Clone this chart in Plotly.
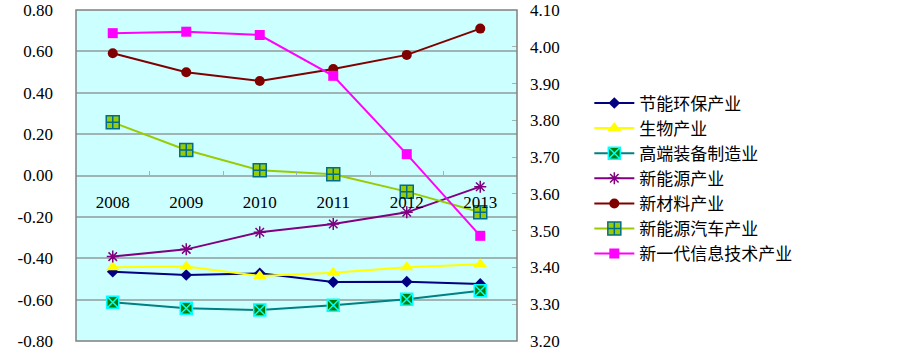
import plotly.graph_objects as go

years = ["2008", "2009", "2010", "2011", "2012", "2013"]

jieneng = [-0.465, -0.481, -0.473, -0.515, -0.513, -0.524]
shengwu = [-0.444, -0.440, -0.486, -0.470, -0.444, -0.429]
gaoduan = [-0.613, -0.642, -0.650, -0.627, -0.598, -0.557]
xinnengyuan = [-0.392, -0.357, -0.274, -0.234, -0.178, -0.054]
xincailiao = [0.591, 0.499, 0.457, 0.515, 0.583, 0.710]
xinnengyuan_qiche = [0.257, 0.123, 0.025, 0.006, -0.078, -0.178]
xinyidai = [4.037, 4.041, 4.032, 3.921, 3.708, 3.486]

left_ticks = [-0.8, -0.6, -0.4, -0.2, 0.0, 0.2, 0.4, 0.6, 0.8]
left_ticktext = ["-0.80", "-0.60", "-0.40", "-0.20", "0.00", "0.20", "0.40", "0.60", "0.80"]
right_ticks = [3.2, 3.3, 3.4, 3.5, 3.6, 3.7, 3.8, 3.9, 4.0, 4.1]
right_ticktext = ["3.20", "3.30", "3.40", "3.50", "3.60", "3.70", "3.80", "3.90", "4.00", "4.10"]

fig = go.Figure()

def add(name, vals, color, symbol, size, mcolor=None, mline=None, mlw=0, yaxis="y"):
    fig.add_trace(go.Scatter(
        x=years, y=vals, name=name, mode="lines+markers", yaxis=yaxis,
        line=dict(color=color, width=2),
        marker=dict(symbol=symbol, size=size, color=mcolor or color,
                    line=dict(color=mline or (mcolor or color), width=mlw)),
    ))

add("节能环保产业", jieneng, "#000080", "diamond", 9)
add("生物产业", shengwu, "#FFFF00", "triangle-up", 12)
add("高端装备制造业", gaoduan, "#008080", "square-x", 12, mcolor="#008000", mline="#00FFFF", mlw=1.5)
add("新能源产业", xinnengyuan, "#800080", "asterisk-open", 10, mcolor="#800080", mline="#800080", mlw=1.5)
add("新材料产业", xincailiao, "#800000", "circle", 10)
add("新能源汽车产业", xinnengyuan_qiche, "#99CC00", "square-cross", 13, mcolor="#99CC00", mline="#006E8A", mlw=1.5)
add("新一代信息技术产业", xinyidai, "#FF00FF", "square", 10, yaxis="y2")

tickfont = dict(family="Liberation Serif", size=17, color="#000000")

fig.update_layout(
    width=903, height=354,
    margin=dict(l=76, r=386, t=10, b=13, autoexpand=False),
    paper_bgcolor="white",
    plot_bgcolor="#CCFFFF",
    showlegend=True,
    legend=dict(x=1.164, y=0.772, xanchor="left", yanchor="top",
                font=dict(family="Noto Sans CJK SC", size=17, color="#000000"),
                tracegroupgap=0, itemwidth=40, bgcolor="rgba(0,0,0,0)"),
    xaxis=dict(
        type="category", range=[-0.5, 5.5], anchor="free", position=0.5,
        showgrid=False, showline=False, zeroline=False, automargin=False,
        ticks="inside", tickson="boundaries", ticklen=5, tickcolor="#a0b4b4",
        tickfont=tickfont, ticklabelstandoff=14,
    ),
    yaxis=dict(
        range=[-0.8, 0.8], tickvals=left_ticks, ticktext=left_ticktext,
        showgrid=True, gridcolor="#a0b4b4", gridwidth=1.5, zeroline=False,
        showline=False, ticks="", tickfont=tickfont, ticklabelstandoff=22,
        automargin=False,
    ),
    yaxis2=dict(
        range=[3.2, 4.1], tickvals=right_ticks, ticktext=right_ticktext,
        overlaying="y", side="right", showgrid=False, zeroline=False,
        showline=False, ticks="inside", ticklen=5, tickcolor="#a0b4b4",
        tickfont=tickfont, ticklabelstandoff=12, automargin=False,
    ),
    shapes=[dict(type="rect", xref="paper", yref="paper", x0=0, y0=0, x1=1, y1=1,
                 line=dict(color="#808080", width=1.5), layer="above")],
)

fig.write_html("out.html", config={"displayModeBar": False},
               post_script="document.body.style.margin='0';")
